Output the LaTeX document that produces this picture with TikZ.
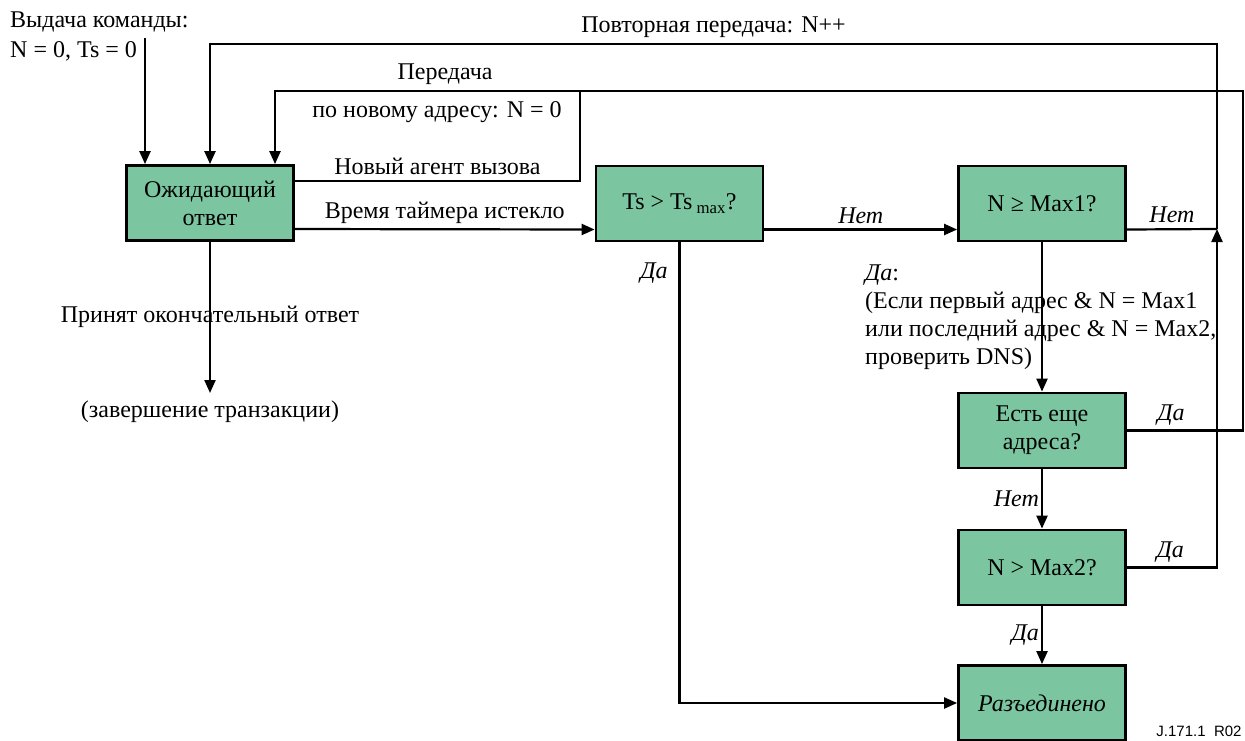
\documentclass[tikz,border=0pt]{standalone}
\usepackage{fontspec}
\setmainfont{Liberation Serif}
\newfontfamily\tagfont{Liberation Sans}
\usetikzlibrary{arrows.meta,calc}

\definecolor{boxgreen}{RGB}{123,198,160}

\tikzset{
  box/.style={draw, line width=2.8pt, fill=boxgreen, minimum width=167pt, minimum height=75pt,
    align=center, inner sep=2pt, font=\fontsize{24}{28}\selectfont},
  wire/.style={line width=2.2pt},
  flow/.style={wire, -{Triangle[length=13pt,width=11pt]}},
  txt/.style={font=\fontsize{24}{28}\selectfont, inner sep=2pt},
  ans/.style={txt, font=\fontsize{24}{28}\selectfont\itshape},
  over/.style={above, yshift=3pt}
}

\begin{document}
\begin{tikzpicture}[x=1pt,y=-1pt]
  \useasboundingbox (0,0) rectangle (1245,740);

  % boxes
  \node[box] (wait)  at (210,203)    {Ожидающий\\ответ};
  \node[box] (tsq)   at (679.5,203.5) {Ts > Ts\,\textsubscript{max}?};
  \node[box] (nmax1) at (1042,203.5) {N ≥ Max1?};
  \node[box] (more)  at (1042,430.5) {Есть еще\\адреса?};
  \node[box] (nmax2) at (1042,567.5) {N > Max2?};
  \node[box] (disc)  at (1042,703)   {\itshape Разъединено};

  % free ends
  \coordinate (start) at (145,38);
  \coordinate (rjoin) at (1217,229);
  \coordinate (rtop)  at (1217,44);
  \coordinate (aright) at (1243,91);
  \coordinate (ajoin) at (580,91);
  \coordinate (done)  at (210,393);

  \node[txt, anchor=base west] (cmd1) at (8,27) {Выдача команды:};
  \node[txt, anchor=base west] (cmd2) at (8,57) {N = 0, Ts = 0};
  \draw[flow] (start) -- (start |- wait.north);

  % retransmission loop
  \draw[flow] (nmax2.east) -| (rjoin);
  \node[ans, over] at ($(nmax2.east)!0.48!(nmax2.east -| rjoin)$) {Да};
  \draw[flow] (rjoin) -- (rtop) -| (wait.north)
    node[pos=0.25, over, txt] {Повторная передача: N++};
  \draw[wire] ([yshift=-26pt]nmax1.east) -- (rjoin) node[midway, over, ans] {Нет};

  % new address loop
  \draw[flow] (more.east) -| (aright) -| ([xshift=65pt]wait.north);
  \node[ans, over] at ($(more.east)!0.38!(more.east -| aright)$) {Да};
  \node[txt] (lbl1) at (445,74) {Передача};
  \node[txt] (lbl2) at (437,112) {по новому адресу: N = 0};
  \draw[wire] ([yshift=22pt]wait.east) -- ([yshift=22pt]wait.east -| ajoin)
    node[midway, over, txt] {Новый агент вызова} -- (ajoin);

  % main row
  \draw[flow] ([yshift=-26pt]wait.east) -- ([yshift=-26pt]tsq.west)
    node[midway, over, txt] {Время таймера истекло};
  \draw[flow] ([yshift=-26pt]tsq.east) -- ([yshift=-26pt]nmax1.west)
    node[midway, over, ans] {Нет};

  \draw[flow] (tsq.south) |- (disc.west);
  \node[ans] at (654,273) {Да};

  \draw[flow] (nmax1.south) -- (more.north);
  \node[txt, anchor=north west, align=left] (why) at (863,263)
    {\itshape Да\upshape:\\(Если первый адрес \& N = Max1\\или последний адрес \& N = Max2,\\проверить DNS)};

  \draw[flow] (more.south) -- (nmax2.north) node[midway, left, ans] {Нет};
  \draw[flow] (nmax2.south) -- (disc.north) node[midway, left, ans] {Да};

  % final answer
  \draw[flow] (wait.south) -- (done);
  \node[txt] at (210,317) {Принят окончательный ответ};
  \node[txt] at (210,412) {(завершение транзакции)};

  \node[font=\tagfont\fontsize{15}{17}\selectfont] at (1199,731) {J.171.1\ \ R02};
\end{tikzpicture}
\end{document}
